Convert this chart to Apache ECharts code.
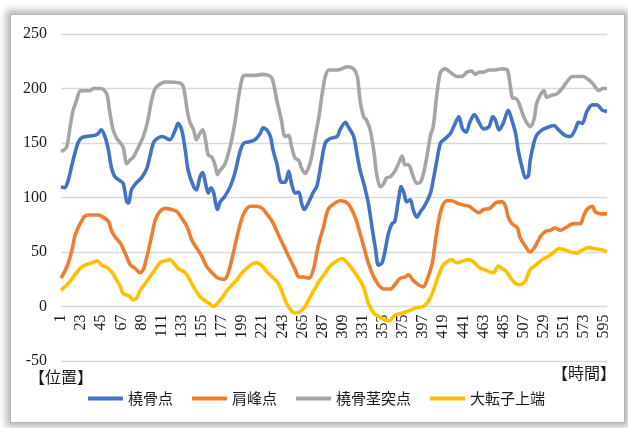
<!DOCTYPE html>
<html><head><meta charset="utf-8">
<script src="https://cdn.jsdelivr.net/npm/echarts@6/dist/echarts.min.js"></script>
<style>
html,body{margin:0;padding:0;background:#fff;width:628px;height:428px;overflow:hidden}
#frame{position:absolute;left:10px;top:14px;width:613px;height:407px;background:#fff;border:1px solid #b5b5b5;box-shadow:0 0 7px 4px rgba(0,0,0,0.28)}
#chart{position:absolute;left:0;top:0;width:628px;height:428px}
</style></head>
<body>
<div id="frame"></div>
<div id="chart"></div>
<script>
// category labels 1..598 (frames)
const categories = Array.from({length: 598}, (_, k) => String(k + 1));
const yTicks = [-50, 0, 50, 100, 150, 200, 250];
const seriesNames = ['橈骨点', '肩峰点', '橈骨茎突点', '大転子上端'];

// [frame number, value]
const blueData = [[1,110],[5,109],[9,116],[13,130],[16,140],[20,151],[24,155],[29,156],[38,157],[42,159],[45,162],[49,156],[53,143],[56,128],[60,119],[66,115],[69,113],[73,96],[75,95],[78,107],[84,114],[89,118],[95,127],[98,137],[102,150],[106,154],[111,156],[115,155],[120,153],[126,162],[129,168],[133,162],[137,143],[140,125],[146,110],[149,107],[153,119],[156,123],[159,113],[162,104],[165,109],[168,104],[170,95],[172,89],[175,96],[180,101],[186,110],[191,122],[197,143],[201,150],[206,151],[213,153],[219,159],[222,164],[226,162],[230,156],[233,143],[237,131],[242,114],[246,114],[250,124],[253,113],[257,104],[261,105],[264,95],[267,89],[272,96],[277,105],[281,111],[286,134],[290,150],[295,154],[303,156],[306,162],[312,169],[315,165],[321,156],[324,143],[328,125],[332,113],[337,95],[341,73],[345,52],[348,38],[352,40],[356,54],[359,67],[363,76],[366,78],[370,98],[373,110],[376,104],[379,96],[383,98],[386,89],[390,82],[394,87],[399,93],[405,104],[408,116],[412,134],[416,150],[421,154],[427,159],[432,168],[436,174],[440,163],[444,160],[448,169],[453,176],[458,169],[463,163],[469,165],[473,174],[476,171],[480,162],[485,169],[490,180],[494,171],[498,159],[501,143],[505,128],[509,118],[512,120],[514,134],[518,150],[521,157],[527,162],[532,164],[540,166],[545,162],[552,157],[558,156],[563,162],[567,169],[571,168],[576,179],[582,185],[587,185],[593,180],[598,179]];
const orangeData = [[1,26],[5,32],[9,40],[13,52],[16,64],[20,73],[24,79],[27,83],[31,84],[42,84],[47,82],[53,78],[56,70],[60,64],[66,58],[71,49],[77,38],[82,35],[87,31],[91,34],[95,46],[100,64],[104,79],[109,87],[115,90],[122,89],[128,87],[133,81],[139,73],[144,61],[149,54],[155,46],[160,37],[166,31],[173,26],[179,25],[182,27],[186,37],[191,55],[197,76],[202,87],[208,92],[215,92],[221,90],[226,85],[232,78],[237,69],[242,60],[246,53],[251,44],[257,34],[261,27],[266,27],[272,26],[277,34],[282,55],[288,73],[293,89],[299,94],[306,97],[312,96],[317,92],[323,81],[328,67],[332,55],[337,40],[343,27],[348,20],[354,16],[361,16],[366,20],[372,26],[377,27],[381,29],[386,24],[392,20],[397,18],[401,24],[407,40],[410,58],[414,79],[418,92],[423,97],[428,97],[434,95],[441,93],[447,92],[452,89],[458,86],[463,89],[470,90],[476,95],[483,96],[487,92],[490,82],[494,76],[500,72],[503,63],[509,55],[514,50],[520,56],[525,64],[531,69],[536,70],[541,72],[547,70],[552,72],[558,75],[563,76],[569,76],[572,82],[576,89],[582,92],[585,87],[591,85],[598,85]];
const grayData = [[1,142],[7,146],[11,165],[14,179],[18,189],[22,198],[25,198],[33,198],[36,200],[45,200],[51,195],[54,180],[58,162],[62,154],[65,151],[69,146],[73,131],[76,134],[80,137],[85,145],[91,156],[96,171],[100,189],[104,200],[109,204],[115,206],[131,205],[135,201],[139,180],[142,169],[146,162],[149,153],[153,159],[156,162],[159,153],[162,139],[166,137],[170,128],[172,121],[175,125],[180,130],[186,147],[191,168],[195,191],[199,209],[202,212],[213,212],[221,213],[228,212],[232,209],[237,189],[242,171],[246,156],[250,157],[253,147],[257,136],[261,134],[264,127],[268,122],[272,128],[275,137],[279,156],[283,174],[286,192],[290,211],[294,217],[303,217],[308,218],[314,220],[321,218],[325,211],[328,189],[332,174],[335,171],[339,162],[343,143],[346,122],[350,110],[354,113],[357,118],[361,119],[366,124],[370,131],[374,138],[377,130],[381,130],[385,122],[390,113],[394,114],[397,121],[401,137],[405,157],[408,165],[412,195],[416,215],[421,218],[428,214],[434,211],[439,211],[445,215],[450,216],[454,213],[458,215],[463,215],[469,217],[474,217],[483,218],[489,217],[492,204],[495,191],[498,191],[502,186],[506,176],[510,169],[514,165],[518,171],[521,186],[525,194],[529,198],[532,192],[538,194],[543,195],[549,200],[554,206],[560,211],[565,211],[572,211],[578,208],[583,204],[589,198],[593,200],[598,200]];
const yellowData = [[1,15],[5,18],[11,23],[16,29],[22,35],[27,38],[35,40],[41,42],[45,38],[51,36],[56,32],[60,27],[66,18],[69,12],[75,10],[80,6],[84,8],[87,14],[93,21],[98,27],[104,34],[109,40],[115,42],[120,43],[124,40],[129,35],[137,31],[142,24],[148,15],[153,9],[159,5],[164,2],[168,0],[171,2],[177,8],[182,14],[188,20],[193,24],[199,31],[204,35],[210,39],[215,40],[221,37],[226,32],[232,27],[237,23],[241,17],[246,6],[251,-2],[257,-6],[262,-5],[268,0],[273,8],[279,17],[284,24],[290,31],[295,37],[301,41],[308,44],[313,41],[319,35],[324,29],[330,21],[334,12],[337,3],[343,-6],[348,-9],[354,-12],[360,-13],[366,-8],[374,-6],[381,-4],[390,-1],[397,0],[402,4],[407,12],[412,24],[418,37],[423,41],[428,43],[434,40],[441,42],[447,43],[452,41],[458,36],[463,34],[469,32],[474,31],[479,37],[483,35],[488,32],[492,27],[498,21],[503,20],[509,24],[514,34],[520,38],[527,43],[534,46],[540,50],[545,53],[552,52],[558,50],[565,49],[571,52],[578,54],[585,53],[592,52],[598,50]];

const colors = ['#4472C4', '#ED7D31', '#A5A5A5', '#FFC000'];
const allData = [blueData, orangeData, grayData, yellowData];

const chart = echarts.init(document.getElementById('chart'));
const txt = '#1a1a1a';
const gridTop = 34, gridBottom = 67, H = 428;
// distance from grid bottom (-50) up to the 0 line, in px, computed from the y scale
const zeroOffset = (H - gridTop - gridBottom) * (0 - yTicks[0]) / (yTicks[yTicks.length - 1] - yTicks[0]);
chart.setOption({
  animation: false,
  grid: {left: 61, right: 21, top: gridTop, bottom: gridBottom, outerBoundsMode: 'none'},
  xAxis: {
    type: 'category',
    data: categories,
    boundaryGap: false,
    position: 'bottom',
    offset: -zeroOffset,
    axisLine: {show: false, onZero: false},
    axisTick: {show: false},
    axisLabel: {interval: 21, rotate: 90, margin: 8, color: txt, fontFamily: 'Liberation Serif', fontSize: 16}
  },
  yAxis: {
    type: 'value',
    min: yTicks[0], max: yTicks[yTicks.length - 1], interval: 50,
    axisLine: {show: false},
    axisTick: {show: false},
    axisLabel: {margin: 14, color: txt, fontFamily: 'Liberation Serif', fontSize: 16},
    splitLine: {lineStyle: {color: '#D9D9D9', width: 1.3}}
  },
  legend: {
    left: 83, top: 386,
    icon: 'rect',
    itemWidth: 35, itemHeight: 4, itemGap: 19,
    textStyle: {color: txt, fontFamily: 'Noto Sans CJK JP', fontSize: 15},
    data: seriesNames
  },
  graphic: [
    {type: 'text', left: 29, top: 369, style: {text: '【位置】', fill: txt, font: '16px "Noto Sans CJK JP"'}},
    {type: 'text', right: 12, top: 365, style: {text: '【時間】', fill: txt, font: '16px "Noto Sans CJK JP"'}}
  ],
  series: seriesNames.map((n, k) => ({
    name: n,
    type: 'line',
    data: allData[k].map(p => [p[0] - 1, p[1]]),
    symbol: 'none',
    smooth: 0.3,
    color: colors[k],
    lineStyle: {width: 3.6, color: colors[k]}
  }))
});
</script>
</body></html>
